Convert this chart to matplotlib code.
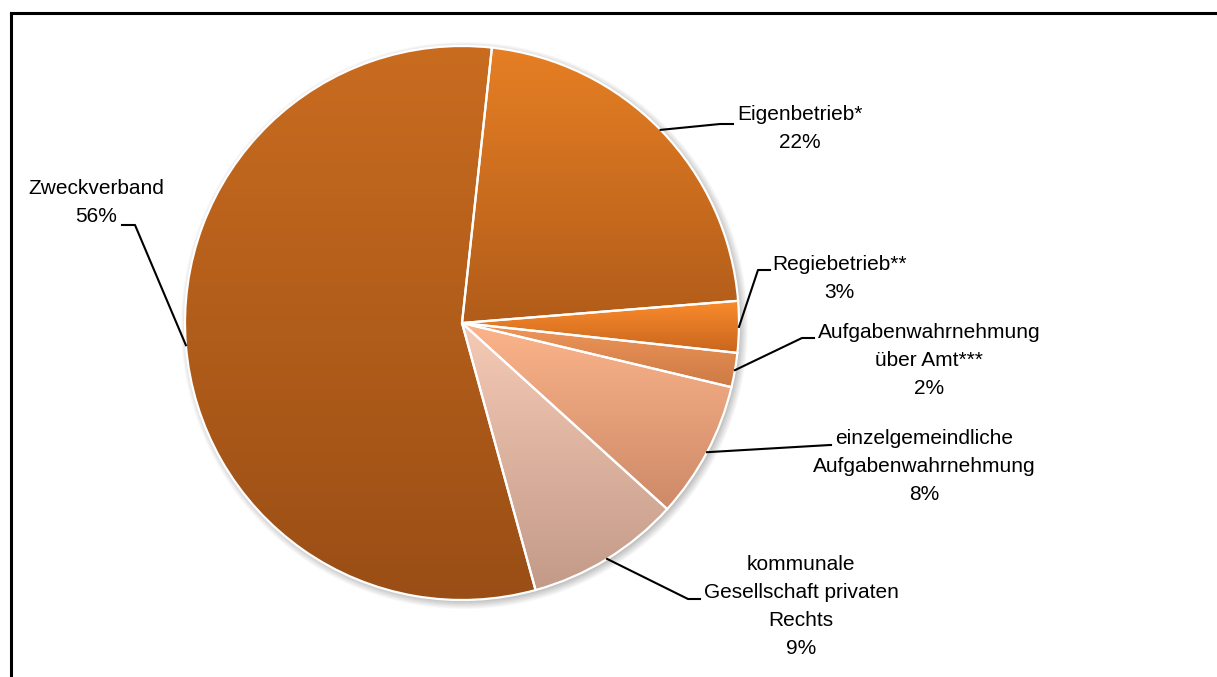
import numpy as np
import matplotlib
matplotlib.use("Agg")
import matplotlib.pyplot as plt
from matplotlib.lines import Line2D

plt.rcParams['font.family'] = ['Liberation Sans', 'DejaVu Sans']

labels = ["Eigenbetrieb*", "Regiebetrieb**", "Aufgabenwahrnehmung\nüber Amt***",
          "einzelgemeindliche\nAufgabenwahrnehmung",
          "kommunale\nGesellschaft privaten\nRechts", "Zweckverband"]
shares = [22, 3, 2, 8, 9, 56]
# gradient colours per slice (top, bottom)
tops = ["#e67f24", "#fb8c2c", "#f0965a", "#fcb48a", "#f5cbb6", "#c96c20"]
bottoms = ["#b15c1a", "#c8651d", "#cc7a44", "#cd8a68", "#c39a88", "#9a4e15"]

W, H = 1217, 677
cx, cy, R = 462, H - 323, 277

fig = plt.figure(figsize=(W / 100, H / 100), dpi=100)
ax = fig.add_axes([0, 0, 1, 1])

# soft shadow under the pie
yy, xx = np.mgrid[0:H, 0:W]
d = np.hypot(xx - (cx + 2), yy - (cy - 3))
a = np.clip((R + 7 - d) / 9, 0, 1) * 0.45
shadow = np.zeros((H, W, 4))
shadow[..., :3] = 0.45
shadow[..., 3] = a
ax.imshow(shadow, extent=[0, W, 0, H], origin="lower", zorder=0, interpolation="bilinear")

wedges, _ = ax.pie(shares, center=(cx, cy), radius=R, startangle=83.8, counterclock=False,
                   colors=["none"] * len(shares), frame=True,
                   wedgeprops=dict(edgecolor="white", linewidth=1.6, zorder=3))
ax.set_xlim(0, W)
ax.set_ylim(0, H)
ax.set_aspect("auto")
ax.axis("off")

for w, c0, c1 in zip(wedges, tops, bottoms):
    pts = w.get_patch_transform().transform(w.get_path().vertices)
    x0, x1 = pts[:, 0].min(), pts[:, 0].max()
    y0, y1 = pts[:, 1].min(), pts[:, 1].max()
    t = np.linspace(0, 1, 256)[:, None]
    c0 = np.array(matplotlib.colors.to_rgb(c0))
    c1 = np.array(matplotlib.colors.to_rgb(c1))
    grad = (c1 * (1 - t) + c0 * t)[:, None, :].repeat(2, axis=1)
    im = ax.imshow(grad, extent=[x0, x1, y0, y1], origin="lower", aspect="auto",
                   zorder=2, interpolation="bilinear")
    im.set_clip_path(w)

# label positions (text centre) and leader elbows, in pixels from top-left
text_pos = [(800, 129), (839, 279), (929, 361), (924, 467), (801, 606), (96, 203)]
elbows = [[(720, 124), (733, 124)], [(758, 270), (770, 270)], [(802, 338), (814, 338)],
          [(830, 445), (831, 445)], [(688, 599), (700, 599)], [(135, 225), (122, 225)]]

for w, lab, s, (tx, ty), elb in zip(wedges, labels, shares, text_pos, elbows):
    mid = np.deg2rad((w.theta1 + w.theta2) / 2)
    sx, sy = cx + R * np.cos(mid), cy + R * np.sin(mid)
    xs = [sx] + [p[0] for p in elb]
    ys = [sy] + [H - p[1] for p in elb]
    ax.add_line(Line2D(xs, ys, color="black", lw=1.5, zorder=4))
    ax.text(tx, H - ty, f"{lab}\n{s}%", ha="center", va="center", fontsize=15,
            linespacing=1.6, color="black", zorder=5)

# chart frame (left and top edges)
fig.add_artist(Line2D([11 / W, 11 / W], [0, 1 - 13 / H], color="black", lw=2.2))
fig.add_artist(Line2D([11 / W, 1], [1 - 13 / H, 1 - 13 / H], color="black", lw=2.2))

fig.savefig("out.png", dpi=100)
